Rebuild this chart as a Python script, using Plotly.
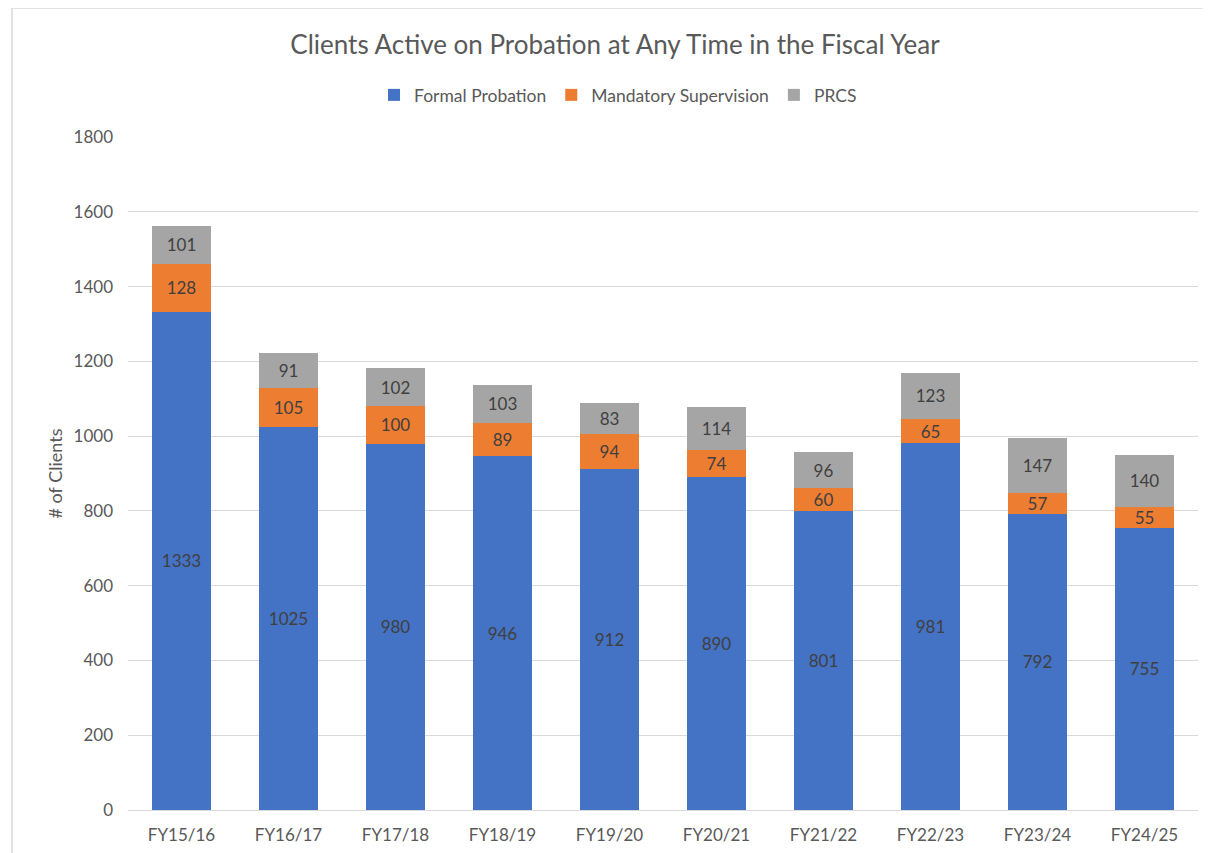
import plotly.graph_objects as go

categories = ["FY15/16", "FY16/17", "FY17/18", "FY18/19", "FY19/20",
              "FY20/21", "FY21/22", "FY22/23", "FY23/24", "FY24/25"]
formal_probation = [1333, 1025, 980, 946, 912, 890, 801, 981, 792, 755]
mandatory_supervision = [128, 105, 100, 89, 94, 74, 60, 65, 57, 55]
prcs = [101, 91, 102, 103, 83, 114, 96, 123, 147, 140]
y_ticks = [0, 200, 400, 600, 800, 1000, 1200, 1400, 1600, 1800]

FONT = "Lato"
TXT = "#595959"

fig = go.Figure()
for name, vals, color in [
    ("Formal Probation", formal_probation, "#4472C4"),
    ("Mandatory Supervision", mandatory_supervision, "#ED7D31"),
    ("PRCS", prcs, "#A5A5A5"),
]:
    fig.add_trace(go.Bar(
        name=name, x=categories, y=vals, marker_color=color,
        marker_line_width=0,
        text=[str(v) for v in vals], textposition="inside",
        insidetextanchor="middle", textangle=0, constraintext="none",
        textfont=dict(family=FONT, size=17, color="#404040"),
    ))

# page has an 8px body margin, so figure coords = screen coords - 8
OFF = 8
W, H = 1211, 853
L = 128 - OFF
T = 137 - OFF
R = W - (1198 - OFF)
B = H - (810 - OFF)
pw, ph = W - L - R, H - T - B

def px_x(p):
    return (p - OFF - L) / pw

def px_y(p):
    return (H - B - (p - OFF)) / ph

border = dict(color="#D9D9D9", width=1.5)
fig.add_shape(type="line", xref="paper", yref="paper",
              x0=px_x(12), x1=px_x(1260), y0=px_y(8), y1=px_y(8),
              line=border, layer="below")
fig.add_shape(type="line", xref="paper", yref="paper",
              x0=px_x(12), x1=px_x(12), y0=px_y(8), y1=px_y(900),
              line=border, layer="below")

fig.update_layout(
    width=W, height=H,
    margin=dict(l=L, r=R, t=T, b=B),
    barmode="stack", bargap=0.44,
    plot_bgcolor="white", paper_bgcolor="white",
    font=dict(family=FONT, color=TXT),
    title=dict(text="Clients Active on Probation at Any Time in the Fiscal Year",
               x=(615 - OFF) / W, xref="container", xanchor="center",
               y=1 - (45 - OFF) / H, yref="container", yanchor="middle",
               font=dict(family=FONT, size=26, color=TXT)),
    legend=dict(orientation="h", xref="container", yref="container",
                x=(618 - OFF) / W, xanchor="center", y=1 - (95 - OFF) / H,
                yanchor="middle",
                font=dict(family=FONT, size=17.5, color=TXT),
                itemwidth=30, traceorder="normal"),
    showlegend=True,
)
fig.update_yaxes(range=[0, 1800], tickvals=y_ticks, showgrid=True,
                 gridcolor="#D9D9D9", gridwidth=1, zeroline=False,
                 tickfont=dict(family=FONT, size=17, color=TXT),
                 ticks="", ticklabelstandoff=14,
                 title=dict(text="# of Clients", standoff=6,
                            font=dict(family=FONT, size=18, color=TXT)))
fig.update_xaxes(showline=True, linecolor="#D9D9D9", linewidth=1,
                 tickfont=dict(family=FONT, size=17, color=TXT), ticks="",
                 ticklabelstandoff=10)

fig.write_html("out.html")
